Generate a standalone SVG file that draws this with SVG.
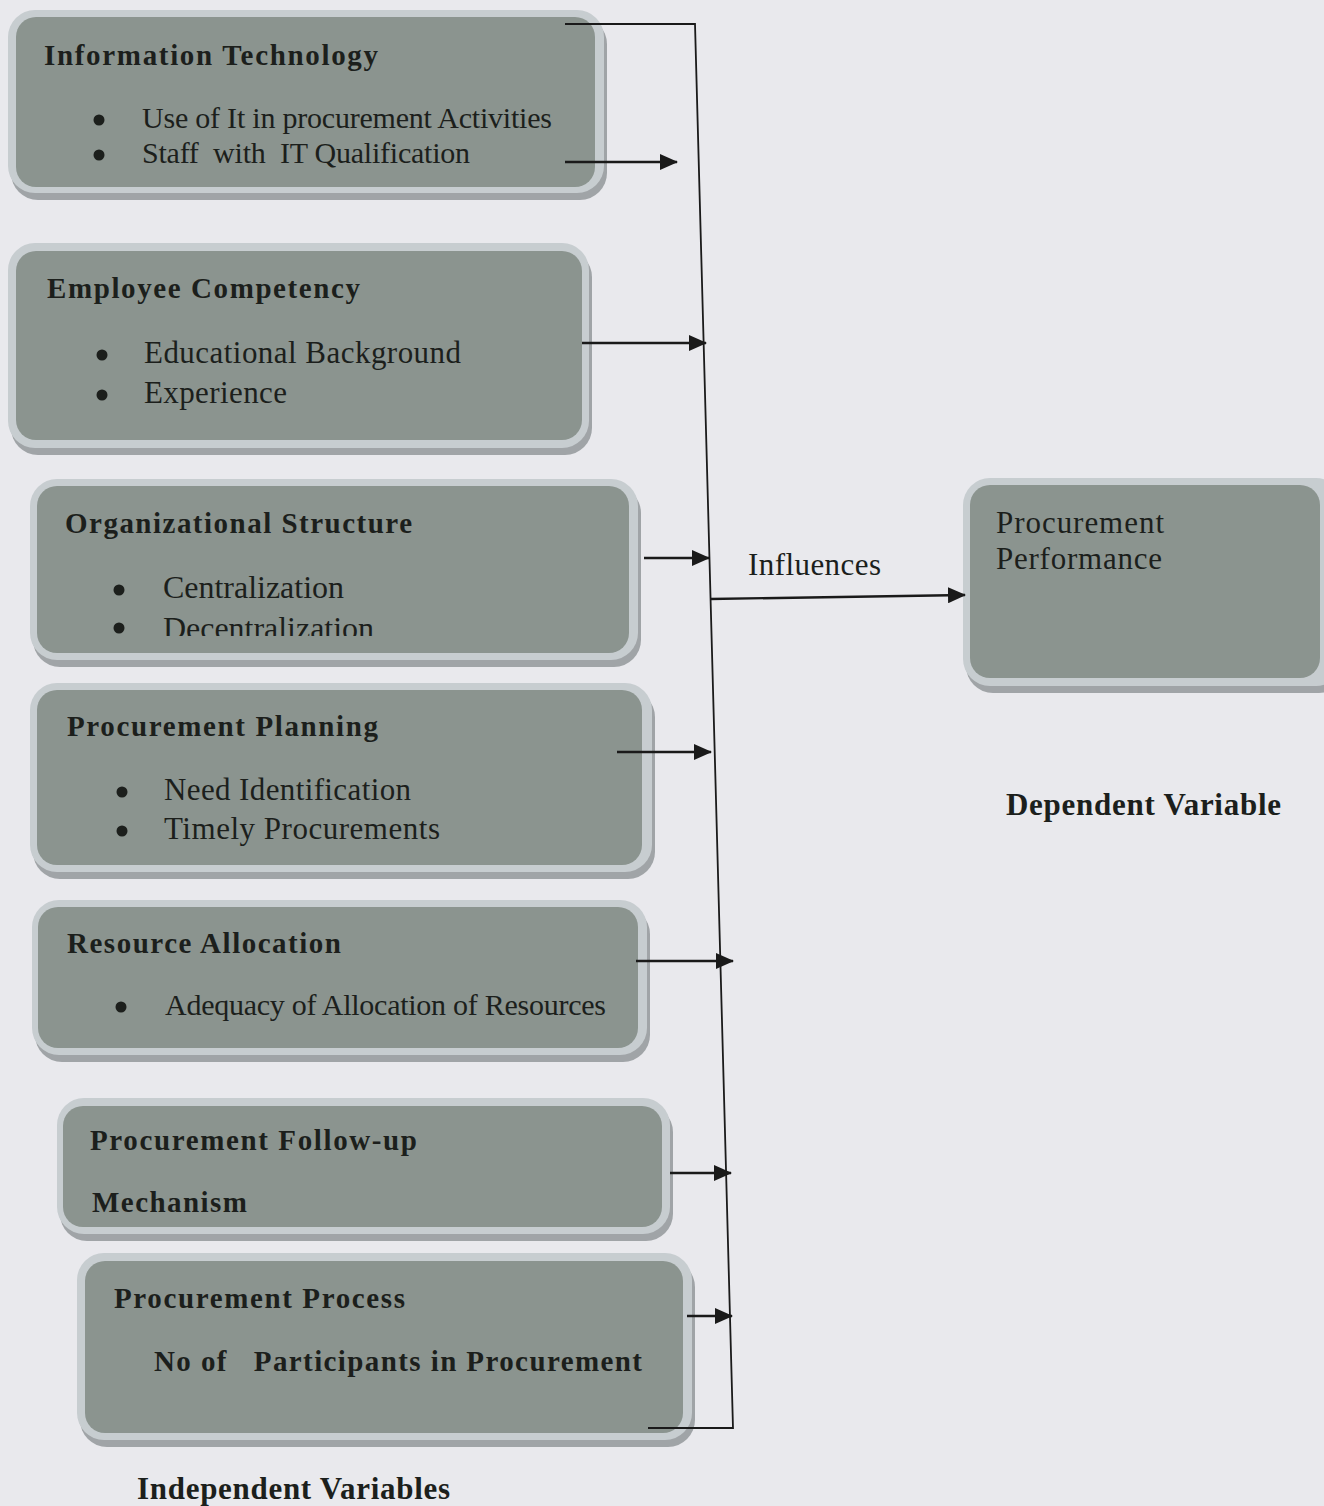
<svg xmlns="http://www.w3.org/2000/svg" width="1324" height="1506" viewBox="0 0 1324 1506">
<style>
.sh{fill:#a0a4a7}
.lt{fill:#c7cdd0}
.in{fill:#8b948f}
.t{font-family:"Liberation Serif","Times New Roman",serif;fill:#1c1f1c}
.b{font-weight:bold;font-size:29px}
.r{font-size:31px}
.bl{fill:#1c1f1c}
.c{fill:none;stroke:#1a1a1a;stroke-width:2.4}
.v{fill:none;stroke:#1a1a1a;stroke-width:1.8}
</style>
<defs>
<marker id="ah" markerUnits="userSpaceOnUse" markerWidth="18" markerHeight="16" refX="17" refY="8" orient="auto">
<path d="M0,0 L18,8 L0,16 z" fill="#1a1a1a"/>
</marker>
<clipPath id="clipDec"><rect x="0" y="0" width="1324" height="636"/></clipPath>
</defs>
<rect width="1324" height="1506" fill="#e9e9ed"/>

<g id="node-it">
<rect class="sh" x="11" y="17" width="596" height="183" rx="27"/>
<rect class="lt" x="8" y="10" width="596" height="183" rx="27"/>
<rect class="in" x="16" y="17" width="579" height="170" rx="20"/>
<text class="t b" x="44" y="65" textLength="334">Information Technology</text>
<circle class="bl" cx="99" cy="120" r="5.5"/>
<circle class="bl" cx="99" cy="155" r="5.5"/>
<text class="t" style="font-size:30px" x="142" y="128" textLength="410">Use of It in procurement Activities</text>
<text class="t" style="font-size:30px" x="142" y="163" textLength="328" xml:space="preserve">Staff  with  IT Qualification</text>
</g>

<g id="node-employee">
<rect class="sh" x="11" y="250" width="581" height="205" rx="27"/>
<rect class="lt" x="8" y="243" width="581" height="205" rx="27"/>
<rect class="in" x="16" y="251" width="566" height="189" rx="20"/>
<text class="t b" x="47" y="298" textLength="313">Employee Competency</text>
<circle class="bl" cx="102" cy="355" r="5.5"/>
<circle class="bl" cx="102" cy="395" r="5.5"/>
<text class="t r" x="144" y="363" textLength="317">Educational Background</text>
<text class="t r" x="144" y="403" textLength="143">Experience</text>
</g>

<g id="node-org">
<rect class="sh" x="33" y="486" width="608" height="181" rx="27"/>
<rect class="lt" x="30" y="479" width="608" height="181" rx="27"/>
<rect class="in" x="37" y="486" width="592" height="167" rx="20"/>
<text class="t b" x="65" y="533" textLength="347">Organizational Structure</text>
<circle class="bl" cx="119" cy="590" r="5.5"/>
<circle class="bl" cx="119" cy="628" r="5.5"/>
<text class="t" style="font-size:32px" x="163" y="598" textLength="181">Centralization</text>
<text class="t" style="font-size:32px" x="163" y="639" textLength="211" clip-path="url(#clipDec)">Decentralization</text>
</g>

<g id="node-planning">
<rect class="sh" x="33" y="690" width="622" height="189" rx="27"/>
<rect class="lt" x="30" y="683" width="622" height="189" rx="27"/>
<rect class="in" x="37" y="690" width="605" height="175" rx="20"/>
<text class="t b" x="67" y="736" textLength="311">Procurement Planning</text>
<circle class="bl" cx="122" cy="792" r="5.5"/>
<circle class="bl" cx="122" cy="831" r="5.5"/>
<text class="t r" x="164" y="800" textLength="247">Need Identification</text>
<text class="t r" x="164" y="839" textLength="276">Timely Procurements</text>
</g>

<g id="node-resource">
<rect class="sh" x="35" y="907" width="615" height="155" rx="27"/>
<rect class="lt" x="32" y="900" width="615" height="155" rx="27"/>
<rect class="in" x="38" y="907" width="600" height="141" rx="20"/>
<text class="t b" x="67" y="953" textLength="274">Resource Allocation</text>
<circle class="bl" cx="121" cy="1007" r="5.5"/>
<text class="t" style="font-size:30px" x="165" y="1015" textLength="441">Adequacy of Allocation of Resources</text>
</g>

<g id="node-followup">
<rect class="sh" x="60" y="1105" width="613" height="136" rx="27"/>
<rect class="lt" x="57" y="1098" width="613" height="136" rx="27"/>
<rect class="in" x="63" y="1106" width="599" height="121" rx="20"/>
<text class="t b" x="90" y="1150" textLength="327">Procurement Follow-up</text>
<text class="t b" x="92" y="1212" textLength="155">Mechanism</text>
</g>

<g id="node-process">
<rect class="sh" x="80" y="1260" width="615" height="187" rx="27"/>
<rect class="lt" x="77" y="1253" width="615" height="187" rx="27"/>
<rect class="in" x="85" y="1261" width="598" height="172" rx="20"/>
<text class="t b" x="114" y="1308" textLength="291">Procurement Process</text>
<text class="t b" x="154" y="1371" textLength="488" xml:space="preserve">No of   Participants in Procurement</text>
</g>

<g id="node-performance">
<rect class="sh" x="966" y="485" width="380" height="208" rx="27"/>
<rect class="lt" x="963" y="478" width="380" height="208" rx="27"/>
<rect class="in" x="970" y="485" width="350" height="193" rx="20"/>
<text class="t r" x="996" y="533" textLength="168">Procurement</text>
<text class="t r" x="996" y="569" textLength="166">Performance</text>
</g>

<g id="labels">
<text class="t r" x="748" y="575" textLength="133">Influences</text>
<text class="t" style="font-weight:bold;font-size:31px" x="1006" y="815" textLength="275">Dependent Variable</text>
<text class="t" style="font-weight:bold;font-size:31px" x="137" y="1499" textLength="313">Independent Variables</text>
</g>

<g id="connectors">
<path class="v" d="M565,24 H695 L733,1428 H648"/>
<path class="c" d="M565,162 H677" marker-end="url(#ah)"/>
<path class="c" d="M582,343 H706" marker-end="url(#ah)"/>
<path class="c" d="M644,558 H709" marker-end="url(#ah)"/>
<path class="c" d="M617,752 H711" marker-end="url(#ah)"/>
<path class="c" d="M636,961 H733" marker-end="url(#ah)"/>
<path class="c" d="M670,1173 H731" marker-end="url(#ah)"/>
<path class="c" d="M687,1316 H732" marker-end="url(#ah)"/>
<path class="c" d="M710,599 L965,595" marker-end="url(#ah)"/>
</g>
</svg>
